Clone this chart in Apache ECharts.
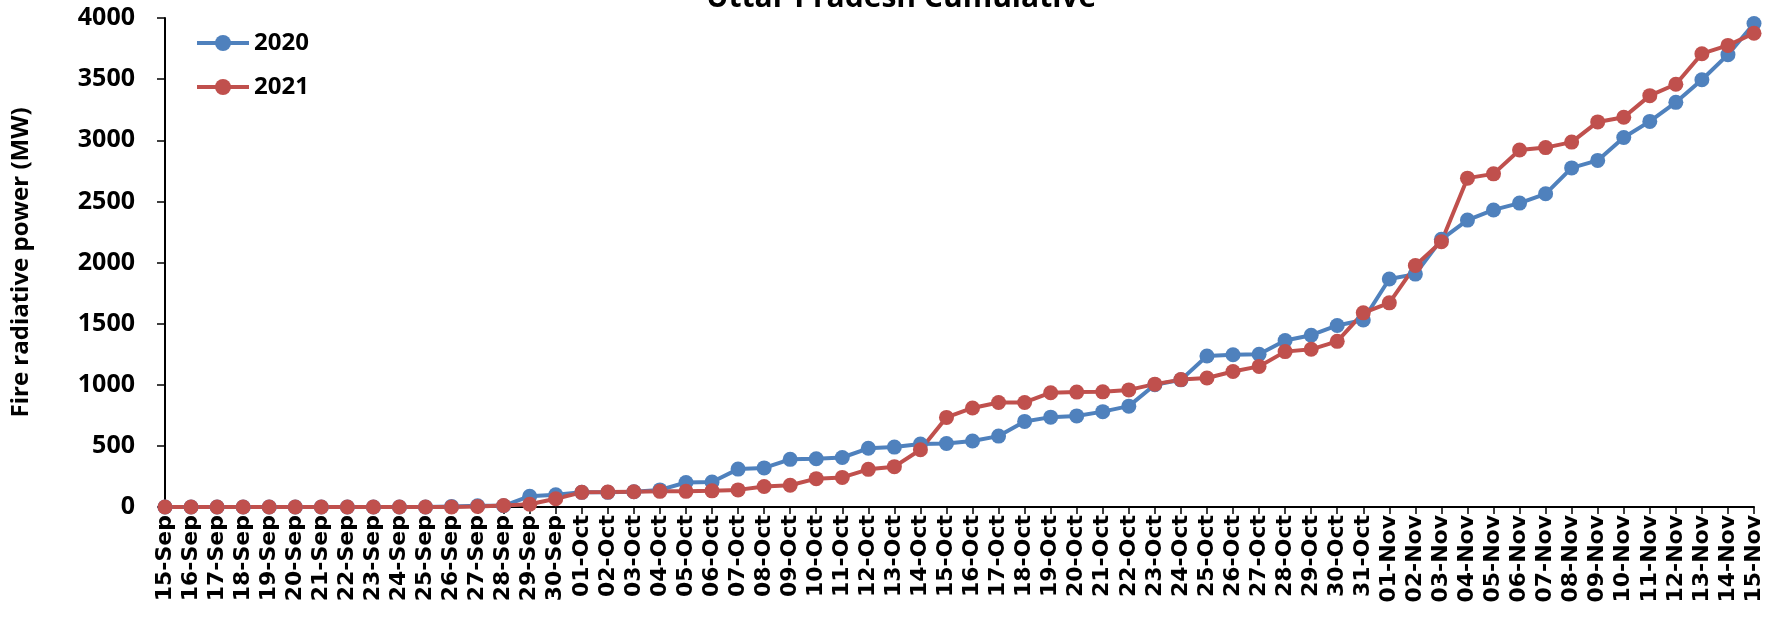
<!DOCTYPE html>
<html>
<head>
<meta charset="utf-8">
<script src="https://cdn.jsdelivr.net/npm/echarts@6/dist/echarts.min.js"></script>
<style>
html,body{margin:0;padding:0;background:#fff;}
#chart{width:1780px;height:619px;}
</style>
</head>
<body>
<div id="chart"></div>
<script>
const categories = ["15-Sep","16-Sep","17-Sep","18-Sep","19-Sep","20-Sep","21-Sep","22-Sep","23-Sep","24-Sep","25-Sep","26-Sep","27-Sep","28-Sep","29-Sep","30-Sep",
"01-Oct","02-Oct","03-Oct","04-Oct","05-Oct","06-Oct","07-Oct","08-Oct","09-Oct","10-Oct","11-Oct","12-Oct","13-Oct","14-Oct","15-Oct","16-Oct","17-Oct","18-Oct","19-Oct","20-Oct","21-Oct","22-Oct","23-Oct","24-Oct","25-Oct","26-Oct","27-Oct","28-Oct","29-Oct","30-Oct","31-Oct",
"01-Nov","02-Nov","03-Nov","04-Nov","05-Nov","06-Nov","07-Nov","08-Nov","09-Nov","10-Nov","11-Nov","12-Nov","13-Nov","14-Nov","15-Nov"];

const values2020 = [0,0,0,0,0,0,0,0,0,0,0,5,10,10,88,100,
120,120,125,140,200,205,310,320,390,395,405,480,490,515,520,540,580,700,735,745,780,825,1000,1040,1235,1245,1250,1362,1405,1485,1530,
1865,1905,2190,2347,2430,2486,2562,2774,2835,3022,3154,3310,3495,3700,3955];

const values2021 = [0,0,0,0,0,0,0,0,0,0,0,0,5,12,22,68,
120,122,125,128,128,132,140,168,178,232,242,308,330,468,733,810,855,855,935,940,942,958,1005,1042,1055,1108,1150,1271,1290,1355,1588,
1670,1975,2170,2690,2725,2920,2940,2985,3150,3188,3365,3458,3708,3776,3875];

const yTicks = {min:0, max:4000, interval:500};

const chart = echarts.init(document.getElementById('chart'));
const boldFont = '"Open Sans", "Liberation Sans", sans-serif';
chart.setOption({
  animation:false,
  backgroundColor:'#ffffff',
  title:{
    text:'Uttar Pradesh Cumulative',
    left:896, top:-22, textAlign:'center',
    textStyle:{fontFamily:boldFont, fontWeight:'bold', fontSize:30, color:'#000'}
  },
  legend:{
    orient:'vertical', left:190, top:26, itemGap:20,
    itemWidth:52, itemHeight:20,
    lineStyle:{width:4},
    textStyle:{fontFamily:boldFont, fontWeight:'bold', fontSize:24, color:'#000'},
    data:['2020','2021']
  },
  grid:{left:165, right:26, top:18, bottom:112, containLabel:false},
  xAxis:{
    type:'category', data:categories, boundaryGap:false,
    axisLine:{lineStyle:{color:'#000', width:2}},
    axisTick:{show:true, length:7, alignWithLabel:true, lineStyle:{color:'#000', width:1.5}},
    axisLabel:{interval:0, rotate:90, margin:8, color:'#000', fontFamily:'"DejaVu Sans", sans-serif', fontWeight:'bold', fontSize:22}
  },
  yAxis:{
    type:'value', min:yTicks.min, max:yTicks.max, interval:yTicks.interval,
    name:'Fire radiative power (MW)', nameLocation:'middle', nameGap:132,
    nameTextStyle:{fontFamily:boldFont, fontWeight:'bold', fontSize:24, color:'#000'},
    axisLine:{show:true, lineStyle:{color:'#000', width:2}},
    axisTick:{show:true, length:8, lineStyle:{color:'#000', width:1.5}},
    splitLine:{show:false},
    axisLabel:{margin:30, color:'#000', fontFamily:boldFont, fontWeight:'bold', fontSize:25,
      formatter:function(v){return String(v);}}
  },
  series:[
    {name:'2020', type:'line', data:values2020, symbol:'circle', symbolSize:15,
     lineStyle:{color:'#4F81BD', width:4}, itemStyle:{color:'#4F81BD'}},
    {name:'2021', type:'line', data:values2021, symbol:'circle', symbolSize:15,
     lineStyle:{color:'#C0504D', width:4}, itemStyle:{color:'#C0504D'}}
  ]
});
</script>
</body>
</html>
